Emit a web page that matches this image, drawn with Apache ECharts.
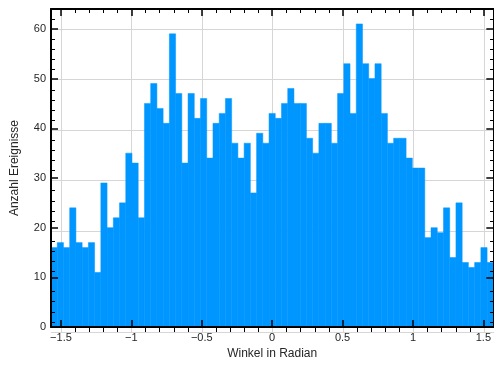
<!DOCTYPE html>
<html>
<head>
<meta charset="utf-8">
<script src="https://cdn.jsdelivr.net/npm/echarts@6/dist/echarts.min.js"></script>
<style>html,body{margin:0;padding:0;background:#fff;}#c{width:494px;height:365px;}</style>
</head>
<body>
<div id="c"></div>
<script>
// Histogram counts (71 bins over [-pi/2, pi/2])
const counts = [16,17,16,24,17,16,17,11,29,20,22,25,35,33,22,45,49,44,41,59,47,33,47,42,46,34,41,43,46,37,34,37,27,39,37,43,42,45,48,45,45,38,35,41,41,37,47,53,43,61,53,50,53,43,37,38,38,34,32,32,18,20,19,24,14,25,13,12,13,16,13];
const xMin = -Math.PI / 2;
const xMax = Math.PI / 2;
const yMin = 0;
const yMax = 64;
const xMajor = [-1.5, -1, -0.5, 0, 0.5, 1, 1.5];
const xMinor = [-1.4,-1.3,-1.2,-1.1,-0.9,-0.8,-0.7,-0.6,-0.4,-0.3,-0.2,-0.1,0.1,0.2,0.3,0.4,0.6,0.7,0.8,0.9,1.1,1.2,1.3,1.4];
const yMajor = [0, 10, 20, 30, 40, 50, 60];
const yMinor = [2,4,6,8,12,14,16,18,22,24,26,28,32,34,36,38,42,44,46,48,52,54,56,58,62];
const xName = 'Winkel in Radian';
const yName = 'Anzahl Ereignisse';

const binW = (xMax - xMin) / counts.length;
const histData = counts.map((c, i) => [xMin + i * binW, xMin + (i + 1) * binW, c]);

const FONT = 'Liberation Sans, Arial, sans-serif';
const gridRect = { left: 51, right: -2, top: 9, bottom: 33 };
const AX = '#000';
const BAR = '#0096ff';
const fmtX = v => (v < 0 ? '\u2212' : '') + Math.abs(v);

function hidden() {
  return { axisLine: {show:false, onZero:false}, axisTick: {show:false}, axisLabel: {show:false}, splitLine: {show:false} };
}
function minorAxis(gridIndex, type, position, vals) {
  const a = hidden();
  a.gridIndex = gridIndex; a.type = 'value'; a.position = position; a.z = 10;
  if (type === 'x') { a.min = xMin; a.max = xMax; } else { a.min = yMin; a.max = yMax; }
  a.axisTick = {show: true, inside: true, length: 4, customValues: vals, lineStyle: {color: AX, width: 1}};
  return a;
}

const chart = echarts.init(document.getElementById('c'), null, {renderer: 'canvas'});
chart.setOption({
  animation: false,
  backgroundColor: '#fff',
  grid: [
    Object.assign({}, gridRect),
    Object.assign({}, gridRect),
    Object.assign({}, gridRect)
  ],
  xAxis: [
    Object.assign(hidden(), { gridIndex: 0, type: 'value', min: xMin, max: xMax, position: 'bottom', z: 0,
      axisTick: {show: false, customValues: xMajor},
      splitLine: {show: true, lineStyle: {color: '#d6d6d6', width: 1}} }),
    { gridIndex: 1, type: 'value', min: xMin, max: xMax, position: 'bottom', z: 10,
      axisLine: {show: true, onZero: false, lineStyle: {color: AX, width: 2}},
      axisTick: {show: true, inside: true, length: 7, customValues: xMajor, lineStyle: {color: AX, width: 1.5}},
      axisLabel: {show: true, customValues: xMajor, formatter: fmtX, color: '#262626', fontSize: 11, fontFamily: FONT, margin: 5},
      splitLine: {show: false},
      name: xName, nameLocation: 'middle', nameGap: 15,
      nameTextStyle: {color: '#262626', fontSize: 12, fontFamily: FONT, verticalAlign: 'top'} },
    { gridIndex: 1, type: 'value', min: xMin, max: xMax, position: 'top', z: 10,
      axisLine: {show: true, onZero: false, lineStyle: {color: AX, width: 2}},
      axisTick: {show: true, inside: true, length: 7, customValues: xMajor, lineStyle: {color: AX, width: 1.5}},
      axisLabel: {show: false}, splitLine: {show: false} },
    minorAxis(2, 'x', 'bottom', xMinor),
    minorAxis(2, 'x', 'top', xMinor)
  ],
  yAxis: [
    Object.assign(hidden(), { gridIndex: 0, type: 'value', min: yMin, max: yMax, position: 'left', z: 0,
      axisTick: {show: false, customValues: yMajor},
      splitLine: {show: true, lineStyle: {color: '#d6d6d6', width: 1}} }),
    { gridIndex: 1, type: 'value', min: yMin, max: yMax, position: 'left', z: 10,
      axisLine: {show: true, onZero: false, lineStyle: {color: AX, width: 2}},
      axisTick: {show: true, inside: true, length: 7, customValues: yMajor, lineStyle: {color: AX, width: 1.5}},
      axisLabel: {show: true, customValues: yMajor, color: '#262626', fontSize: 11, fontFamily: FONT, margin: 5},
      splitLine: {show: false},
      name: yName, nameLocation: 'middle', nameGap: 30,
      nameTextStyle: {color: '#262626', fontSize: 12, fontFamily: FONT} },
    { gridIndex: 1, type: 'value', min: yMin, max: yMax, position: 'right', z: 10,
      axisLine: {show: true, onZero: false, lineStyle: {color: AX, width: 2}},
      axisTick: {show: true, inside: true, length: 7, customValues: yMajor, lineStyle: {color: AX, width: 1.5}},
      axisLabel: {show: false}, splitLine: {show: false} },
    minorAxis(2, 'y', 'left', yMinor),
    minorAxis(2, 'y', 'right', yMinor)
  ],
  series: [{
    type: 'custom',
    xAxisIndex: 1,
    yAxisIndex: 1,
    z: 2,
    data: histData,
    encode: {x: [0, 1], y: 2},
    renderItem: function (params, api) {
      const p0 = api.coord([api.value(0), 0]);
      const p1 = api.coord([api.value(1), api.value(2)]);
      return {
        type: 'rect',
        shape: {x: p0[0], y: p1[1], width: p1[0] - p0[0], height: p0[1] - p1[1]},
        style: {fill: BAR, stroke: BAR, lineWidth: 0.5}
      };
    }
  }]
});
</script>
</body>
</html>
